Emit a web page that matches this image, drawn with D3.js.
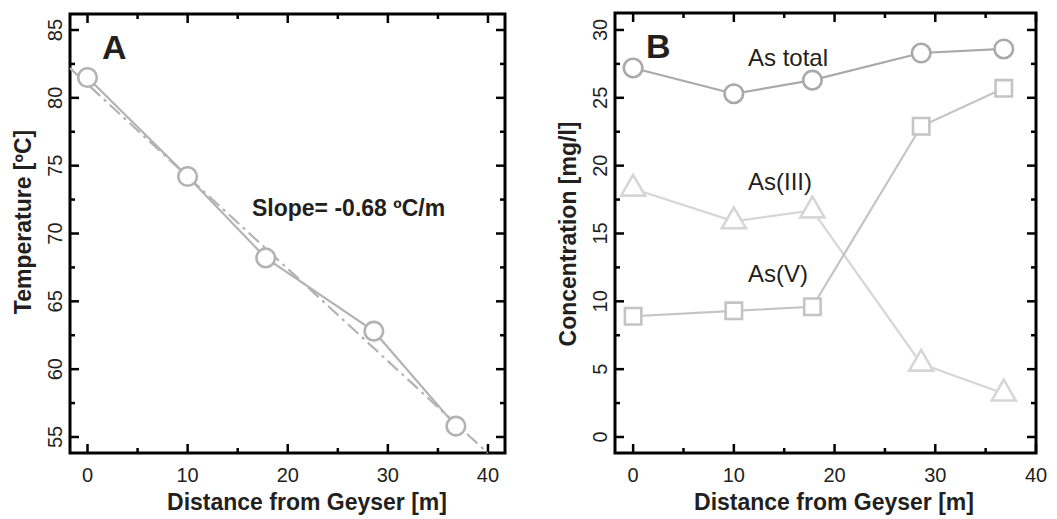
<!DOCTYPE html>
<html>
<head>
<meta charset="utf-8">
<script src="https://cdn.jsdelivr.net/npm/d3@7"></script>
<style>
  body { margin: 0; background: #fff; }
  text { font-family: "Liberation Sans", Arial, sans-serif; fill: #231f20; }
</style>
</head>
<body>
<div id="chart"></div>
<script>
// data
var distance = [0, 10, 17.8, 28.6, 36.8];
var temperature = [81.5, 74.2, 68.2, 62.8, 55.8];
var fitSlope = -0.68, fitIntercept = 81.0;
var asTotal = [27.2, 25.3, 26.3, 28.3, 28.6];
var asIII = [18.3, 15.9, 16.7, 5.4, 3.2];
var asV = [8.9, 9.3, 9.6, 22.9, 25.7];
var xTicks = [0, 10, 20, 30, 40];
var tempTicks = [55, 60, 65, 70, 75, 80, 85];
var concTicks = [0, 5, 10, 15, 20, 25, 30];

var width = 1057, height = 519;
var svg = d3.select("#chart").append("svg")
  .attr("width", width).attr("height", height);

function frame(g, x, y, majX, minX, majY, minY) {
  var x0 = x.range()[0], x1 = x.range()[1], y0 = y.range()[0], y1 = y.range()[1];
  var t = g.append("g").attr("stroke", "#000").attr("stroke-width", 2.5);
  majX.forEach(function (v) {
    t.append("line").attr("x1", x(v)).attr("x2", x(v)).attr("y1", y0).attr("y2", y0 - 9);
    t.append("line").attr("x1", x(v)).attr("x2", x(v)).attr("y1", y1).attr("y2", y1 + 9);
  });
  minX.forEach(function (v) {
    t.append("line").attr("x1", x(v)).attr("x2", x(v)).attr("y1", y0).attr("y2", y0 - 5);
    t.append("line").attr("x1", x(v)).attr("x2", x(v)).attr("y1", y1).attr("y2", y1 + 5);
  });
  majY.forEach(function (v) {
    t.append("line").attr("y1", y(v)).attr("y2", y(v)).attr("x1", x0).attr("x2", x0 + 9);
    t.append("line").attr("y1", y(v)).attr("y2", y(v)).attr("x1", x1).attr("x2", x1 - 9);
  });
  minY.forEach(function (v) {
    t.append("line").attr("y1", y(v)).attr("y2", y(v)).attr("x1", x0).attr("x2", x0 + 5);
    t.append("line").attr("y1", y(v)).attr("y2", y(v)).attr("x1", x1).attr("x2", x1 - 5);
  });
  g.append("rect").attr("x", x0).attr("y", y1).attr("width", x1 - x0).attr("height", y0 - y1)
    .attr("fill", "none").attr("stroke", "#000").attr("stroke-width", 3);
  g.selectAll(".xl").data(majX).enter().append("text")
    .attr("x", function (d) { return x(d); }).attr("y", y0 + 29)
    .attr("text-anchor", "middle").attr("font-size", 20).text(function (d) { return d; });
  g.selectAll(".yl").data(majY).enter().append("text")
    .attr("transform", function (d) { return "translate(" + (x0 - 8) + "," + y(d) + ") rotate(-90)"; })
    .attr("text-anchor", "middle").attr("font-size", 20).text(function (d) { return d; });
}

function series(g, x, y, vals, color, shape) {
  var pts = distance.map(function (d, i) { return [x(d), y(vals[i])]; });
  g.append("path").attr("d", d3.line()(pts)).attr("fill", "none")
    .attr("stroke", color).attr("stroke-width", 2.2);
  var sym = d3.symbol().type(shape).size(shape === d3.symbolTriangle ? 250 : 270);
  g.selectAll(null).data(pts).enter().append("path")
    .attr("d", sym)
    .attr("transform", function (p) { return "translate(" + p[0] + "," + p[1] + ")"; })
    .attr("fill", "#fff").attr("stroke", color).attr("stroke-width", 2.6);
}

// Panel A
var xA = d3.scaleLinear().domain([-1.75, 41.7]).range([70, 505]);
var yA = d3.scaleLinear().domain([53.82, 86.18]).range([453, 14]);
var gA = svg.append("g");
frame(gA, xA, yA, xTicks, [5, 15, 25, 35], tempTicks, [57.5, 62.5, 67.5, 72.5, 77.5, 82.5]);

var fitEnd = (yA.domain()[0] - fitIntercept) / fitSlope;
gA.append("line")
  .attr("x1", xA(-1.75)).attr("y1", yA(fitIntercept + fitSlope * -1.75))
  .attr("x2", xA(fitEnd)).attr("y2", yA(yA.domain()[0]))
  .attr("stroke", "#b3b3b3").attr("stroke-width", 2.2).attr("stroke-dasharray", "14,5,3,5");
series(gA, xA, yA, temperature, "#b3b3b3", d3.symbolCircle);

gA.append("text").attr("x", 102).attr("y", 59).attr("font-size", 34).attr("font-weight", "bold").text("A");
gA.append("text").attr("x", 252).attr("y", 216).attr("font-size", 23).attr("font-weight", "bold").text("Slope= -0.68 ºC/m");
gA.append("text").attr("x", 307).attr("y", 510).attr("text-anchor", "middle")
  .attr("font-size", 23).attr("font-weight", "bold").text("Distance from Geyser [m]");
gA.append("text").attr("transform", "translate(31,222) rotate(-90)").attr("text-anchor", "middle")
  .attr("font-size", 23).attr("font-weight", "bold").text("Temperature [ºC]");

// Panel B
var xB = d3.scaleLinear().domain([-1.8, 40]).range([615, 1036]);
var yB = d3.scaleLinear().domain([-1.18, 31.25]).range([453, 13]);
var gB = svg.append("g");
frame(gB, xB, yB, xTicks, [5, 15, 25, 35], concTicks, [2.5, 7.5, 12.5, 17.5, 22.5, 27.5]);

series(gB, xB, yB, asIII, "#d6d6d6", d3.symbolTriangle);
series(gB, xB, yB, asV, "#c4c4c4", d3.symbolSquare);
series(gB, xB, yB, asTotal, "#a9a9a9", d3.symbolCircle);

gB.append("text").attr("x", 646).attr("y", 58).attr("font-size", 34).attr("font-weight", "bold").text("B");
gB.append("text").attr("x", 748).attr("y", 66).attr("font-size", 24).text("As total");
gB.append("text").attr("x", 748).attr("y", 190).attr("font-size", 24).text("As(III)");
gB.append("text").attr("x", 748).attr("y", 282).attr("font-size", 24).text("As(V)");
gB.append("text").attr("x", 834).attr("y", 510).attr("text-anchor", "middle")
  .attr("font-size", 23).attr("font-weight", "bold").text("Distance from Geyser [m]");
gB.append("text").attr("transform", "translate(576,234) rotate(-90)").attr("text-anchor", "middle")
  .attr("font-size", 23).attr("font-weight", "bold").text("Concentration [mg/l]");
</script>
</body>
</html>
